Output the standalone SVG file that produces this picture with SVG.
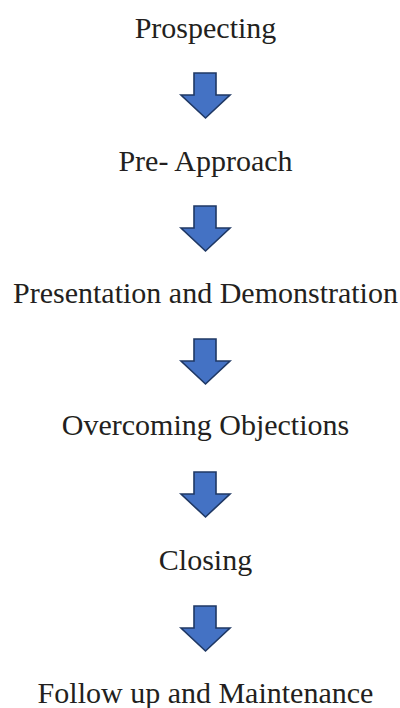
<svg xmlns="http://www.w3.org/2000/svg" width="400" height="708" viewBox="0 0 400 708">
<style>
.t{font-family:"Liberation Serif","Times New Roman",serif;font-size:30px;fill:#231f20;text-anchor:middle}
.a{fill:#4472c4;stroke:#1f3864;stroke-width:1.6;stroke-linejoin:miter}
</style>
<defs>
<path id="arr" d="M194,0 H216 V22 H230 L205.5,45 L181,22 H194 Z"/>
</defs>
<rect width="400" height="708" fill="#ffffff"/>
<g id="n1"><text class="t" x="205.5" y="38">Prospecting</text></g>
<g id="n2"><text class="t" x="205.5" y="171">Pre- Approach</text></g>
<g id="n3"><text class="t" x="205.5" y="303">Presentation and Demonstration</text></g>
<g id="n4"><text class="t" x="205.5" y="435">Overcoming Objections</text></g>
<g id="n5"><text class="t" x="205.5" y="570">Closing</text></g>
<g id="n6"><text class="t" x="205.5" y="703">Follow up and Maintenance</text></g>
<g id="connectors">
<use href="#arr" class="a" y="73"/>
<use href="#arr" class="a" y="206"/>
<use href="#arr" class="a" y="339"/>
<use href="#arr" class="a" y="472"/>
<use href="#arr" class="a" y="606"/>
</g>
</svg>
